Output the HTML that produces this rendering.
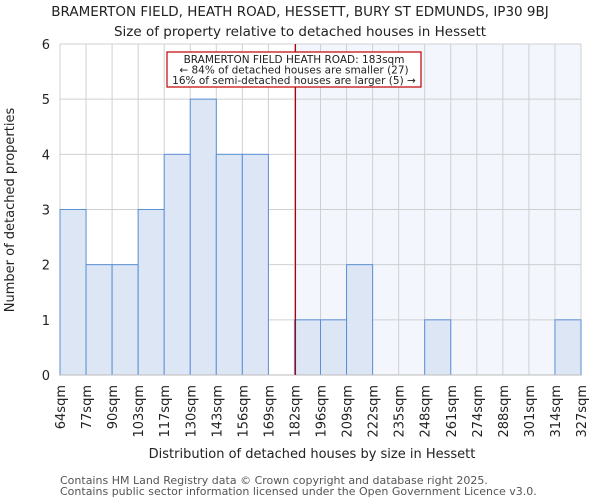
<!DOCTYPE html>
<html><head><meta charset="utf-8"><style>
body{margin:0;background:#fff;font-family:"DejaVu Sans","Liberation Sans",sans-serif}
</style></head><body>
<svg id="chart" width="600" height="500" xmlns="http://www.w3.org/2000/svg" font-family="DejaVu Sans, Liberation Sans, sans-serif">
<text x="300" y="16" text-anchor="middle" font-size="13.5" fill="#222">BRAMERTON FIELD, HEATH ROAD, HESSETT, BURY ST EDMUNDS, IP30 9BJ</text>
<text x="300" y="36" text-anchor="middle" font-size="13.5" fill="#222">Size of property relative to detached houses in Hessett</text>
<g id="plot"></g>
<text x="312" y="458" text-anchor="middle" font-size="13" fill="#222">Distribution of detached houses by size in Hessett</text>
<text transform="translate(14,210) rotate(-90)" text-anchor="middle" font-size="13" fill="#222">Number of detached properties</text>
<text x="60" y="484" font-size="11" fill="#555">Contains HM Land Registry data © Crown copyright and database right 2025.</text>
<text x="60" y="495" font-size="11" fill="#555">Contains public sector information licensed under the Open Government Licence v3.0.</text>
</svg>
<script>
const edgeLabels=["64sqm","77sqm","90sqm","103sqm","117sqm","130sqm","143sqm","156sqm","169sqm","182sqm","196sqm","209sqm","222sqm","235sqm","248sqm","261sqm","274sqm","288sqm","301sqm","314sqm","327sqm"];
const counts=[3,2,2,3,4,5,4,4,0,1,1,2,0,0,1,0,0,0,0,1];
const yTicks=[0,1,2,3,4,5,6];
const propertyBin=9;
const NS="http://www.w3.org/2000/svg";
const L=60,R=581,T=44,B=375,yMax=6;
const nb=counts.length,bw=(R-L)/nb;
const xs=i=>L+i*bw;
const ys=v=>B-(v/yMax)*(B-T);
const g=document.getElementById('plot');
function mk(t,a){const e=document.createElementNS(NS,t);for(const k in a)e.setAttribute(k,a[k]);g.appendChild(e);return e;}
let e;
e=mk('rect',{x:xs(propertyBin),y:T,width:R-xs(propertyBin),height:B-T,fill:'#f3f6fd'});


yTicks.forEach(v=>{
 e=mk('line',{x1:L,x2:R,y1:ys(v),y2:ys(v),stroke:'#d0d0d0'});
 
 
 e=mk('text',{x:L-10,y:ys(v)+5,'text-anchor':'end','font-size':13,fill:'#222'});e.textContent=v;
 
 
});
edgeLabels.forEach((s,i)=>{
 e=mk('line',{x1:xs(i),x2:xs(i),y1:T,y2:B,stroke:'#d0d0d0'});
 
 
 e=mk('text',{transform:`translate(${xs(i)+5},${B+10}) rotate(-90)`,'text-anchor':'end','font-size':13,fill:'#222'});e.textContent=s;
 
 
});
counts.forEach((c,i)=>{
 if(c<=0)return;
 e=mk('rect',{x:xs(i),y:ys(c),width:bw,height:B-ys(c),fill:'#dce6f5',stroke:'#5b8fd6','stroke-width':1});
 
 
});
e=mk('line',{x1:L,x2:R,y1:B,y2:B,stroke:'#bbb'});


e=mk('line',{x1:xs(propertyBin)+1,x2:xs(propertyBin)+1,y1:T,y2:B,stroke:'#b00000','stroke-width':1.2});


e=mk('rect',{x:167,y:52,width:254,height:35,fill:'#fff',stroke:'#c00000','stroke-width':1.2});


["BRAMERTON FIELD HEATH ROAD: 183sqm","← 84% of detached houses are smaller (27)","16% of semi-detached houses are larger (5) →"].forEach((s,i)=>{
 e=mk('text',{x:294,y:63+i*10.5,'text-anchor':'middle','font-size':10.5,fill:'#222'});e.textContent=s;
 
 
});
</script>
</body></html>
